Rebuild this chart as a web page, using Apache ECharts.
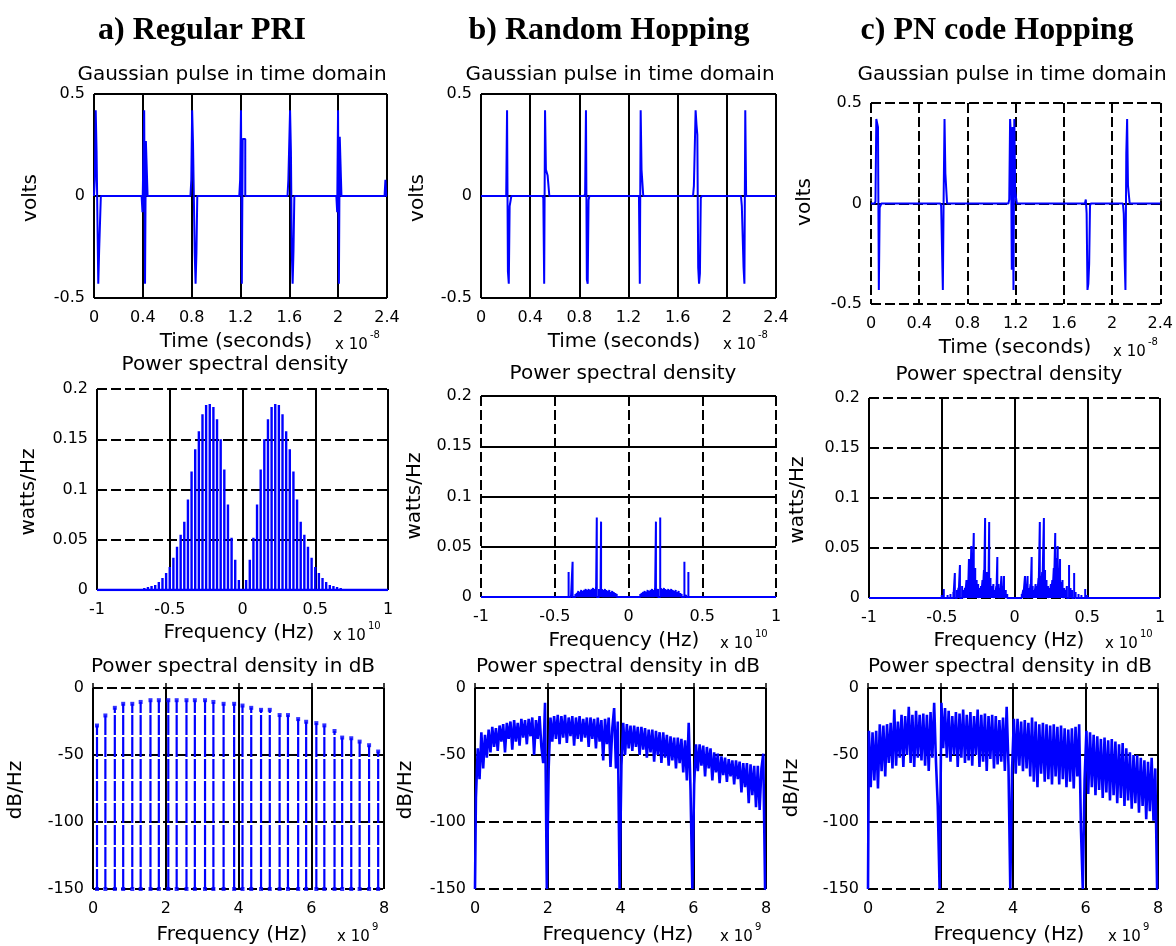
<!DOCTYPE html>
<html>
<head>
<meta charset="utf-8">
<script src="https://cdn.jsdelivr.net/npm/echarts@6.0.0/dist/echarts.min.js"></script>
<style>
  html, body { margin: 0; padding: 0; background: #fff; }
  #chart { width: 1176px; height: 946px; }
</style>
</head>
<body>
<div id="chart"></div>
<script>
// ---------- tick values ----------
const timeTicks = [0, 0.4, 0.8, 1.2, 1.6, 2, 2.4];          // x 1e-8 s
const voltTicks = [-0.5, 0, 0.5];
const freqTicks = [-1, -0.5, 0, 0.5, 1];                    // x 1e10 Hz
const psdTicks = [0, 0.05, 0.1, 0.15, 0.2];
const dbFreqTicks = [0, 2, 4, 6, 8];                        // x 1e9 Hz
const dbTicks = [-150, -100, -50, 0];

// ---------- time-domain pulses (t0 in 1e-8 s, sample values in volts) ----------
const SAMPLE_STEP = 0.007;
const regularPulses = [
  { t0: 0.000, v: [0.08, 0.42, 0.22, 0.22, -0.43, -0.27, -0.27] },
  { t0: 0.390, v: [-0.08, -0.08, 0.42, -0.43, 0.27, 0.27] },
  { t0: 0.790, v: [0.08, 0.42, 0.26, 0.26, -0.28, -0.43, -0.28] },
  { t0: 1.190, v: [0.08, 0.42, -0.43, 0.28, 0.28, 0.28] },
  { t0: 1.585, v: [0.08, 0.08, 0.42, 0.22, -0.27, -0.43, -0.27] },
  { t0: 1.985, v: [-0.08, 0.42, -0.43, 0.29, 0.29] },
  { t0: 2.380, v: [0.08] }
];
const randomPulses = [
  { t0: 0.205, v: [0.42, -0.37, -0.43, -0.05, -0.05] },
  { t0: 0.500, v: [-0.01, -0.43, 0.42, 0.13, 0.13, 0.10, 0.10] },
  { t0: 0.840, v: [0.01, 0.42, -0.41, -0.43, -0.02] },
  { t0: 1.285, v: [-0.43, 0.42, 0.13, 0.13] },
  { t0: 1.725, v: [0.05, 0.05, 0.42, 0.35, 0.30, -0.35, -0.43, -0.38, -0.01] },
  { t0: 2.115, v: [-0.05, -0.05, -0.35, -0.43, 0.42] }
];
const pnPulses = [
  { t0: 0.030, v: [0.01, 0.42, 0.40, 0.38, -0.43, -0.02, -0.02] },
  { t0: 0.575, v: [-0.01, -0.22, -0.43, 0.05, 0.42, 0.15, 0.15] },
  { t0: 1.140, v: [0.02, 0.42, 0.34, -0.33, 0.38, -0.43, 0.42, 0.06, 0.06] },
  { t0: 1.775, v: [0.02, -0.05, -0.43, -0.40, -0.30, -0.01] },
  { t0: 2.090, v: [-0.05, -0.27, -0.43, 0.25, 0.42, 0.09, 0.09] }
];

// ---------- power spectral density, positive-frequency lines (f in 1e10 Hz, watts/Hz) ----------
const regularPsdFreq = [0.025, 0.05, 0.075, 0.1, 0.125, 0.15, 0.175, 0.2, 0.225, 0.25, 0.275, 0.3, 0.325, 0.35,
  0.375, 0.4, 0.425, 0.45, 0.475, 0.5, 0.525, 0.55, 0.575, 0.6, 0.625, 0.65, 0.675, 0.7];
const regularPsdPower = [0.010, 0.030, 0.052, 0.085, 0.120, 0.150, 0.170, 0.182, 0.185, 0.184, 0.175, 0.158, 0.140, 0.118,
  0.090, 0.068, 0.055, 0.043, 0.032, 0.023, 0.017, 0.012, 0.008, 0.005, 0.004, 0.003, 0.002, 0.001];

const randomPsdFreq = [0.06, 0.08, 0.09, 0.10, 0.11, 0.12, 0.13, 0.14, 0.15, 0.16, 0.17, 0.18, 0.186, 0.19, 0.20, 0.215,
  0.22, 0.23, 0.24, 0.25, 0.26, 0.27, 0.28, 0.29, 0.30, 0.31, 0.32, 0.33, 0.34, 0.35, 0.36, 0.379, 0.39, 0.406, 0.42];
const randomPsdPower = [0.001, 0.003, 0.004, 0.005, 0.006, 0.005, 0.007, 0.006, 0.007, 0.008, 0.007, 0.008, 0.075, 0.006, 0.008, 0.079,
  0.009, 0.008, 0.009, 0.008, 0.007, 0.008, 0.007, 0.008, 0.007, 0.006, 0.007, 0.005, 0.006, 0.004, 0.003, 0.035, 0.002, 0.025, 0.001];

const pnPsdFreq = [0.03, 0.05, 0.06, 0.072, 0.08, 0.09, 0.10, 0.11, 0.118, 0.125, 0.135, 0.145, 0.155, 0.165, 0.174, 0.18,
  0.19, 0.202, 0.21, 0.22, 0.23, 0.24, 0.25, 0.26, 0.27, 0.28, 0.29, 0.297, 0.305, 0.313, 0.32, 0.33, 0.34, 0.35, 0.36,
  0.375, 0.385, 0.395, 0.41, 0.42, 0.44, 0.46, 0.486, 0.50, 0.52, 0.56, 0.60, 0.64];
const pnPsdPower = [0.002, 0.004, 0.008, 0.022, 0.012, 0.022, 0.010, 0.014, 0.041, 0.012, 0.008, 0.014, 0.012, 0.020, 0.076, 0.022,
  0.026, 0.080, 0.028, 0.018, 0.012, 0.010, 0.014, 0.018, 0.030, 0.065, 0.040, 0.052, 0.030, 0.039, 0.016, 0.018, 0.010, 0.008, 0.012,
  0.033, 0.010, 0.008, 0.025, 0.006, 0.004, 0.003, 0.009, 0.003, 0.002, 0.002, 0.002, 0.001];

// ---------- PSD in dB ----------
const regularDbFreq = [0.11, 0.34, 0.60, 0.83, 1.08, 1.31, 1.58, 1.81, 2.07, 2.30, 2.57, 2.80, 3.08, 3.31, 3.59, 3.88,
  4.11, 4.35, 4.62, 4.86, 5.13, 5.36, 5.64, 5.86, 6.14, 6.36, 6.64, 6.85, 7.10, 7.33, 7.59, 7.84];
const regularDb = [-28, -20.5, -14.8, -11.8, -11.8, -10.4, -9.1, -9.1, -9.1, -9.1, -9.1, -9.1, -9.1, -10.4, -11.8, -11.8,
  -13.1, -14.8, -16.3, -16.3, -20.2, -20.2, -23.2, -25.2, -26.2, -27.9, -32.1, -37, -37.5, -40, -42.7, -47.4];
const DB_FLOOR = -150;

// sampled every 0.05 (x 1e9 Hz) from 0 to 8
const DB_STEP = 0.05;
const randomDb = [
  -150, -82, -45, -68, -33, -60, -35, -52, -31, -48,
  -29, -44, -30, -47, -28, -40, -27, -48, -26, -38,
  -25, -46, -24, -40, -26, -43, -23, -37, -24, -42,
  -23, -36, -22, -50, -24, -38, -21, -44, -56, -11,
  -150, -60, -22, -40, -21, -38, -20, -42, -21, -37,
  -20, -41, -22, -36, -21, -43, -22, -38, -21, -40,
  -23, -37, -22, -44, -22, -38, -23, -45, -22, -40,
  -24, -54, -23, -42, -22, -59, -30, -15, -60, -25,
  -150, -58, -26, -50, -27, -45, -28, -47, -28, -44,
  -29, -50, -29, -46, -30, -52, -31, -48, -31, -55,
  -32, -50, -33, -56, -33, -52, -35, -58, -36, -54,
  -37, -60, -37, -56, -38, -63, -39, -69, -26, -76,
  -150, -72, -42, -62, -42, -58, -43, -66, -44, -60,
  -45, -69, -48, -63, -49, -71, -51, -65, -52, -70,
  -53, -66, -54, -72, -54, -68, -55, -78, -56, -74,
  -56, -86, -57, -80, -58, -89, -58, -91, -60, -49,
  -150
];
const pnDb = [
  -150, -32, -74, -33, -69, -32, -75, -27, -62, -28,
  -66, -27, -56, -26, -60, -16, -58, -25, -52, -20,
  -59, -21, -50, -14, -56, -20, -59, -17, -52, -20,
  -54, -19, -58, -20, -62, -18, -52, -11, -55, -88,
  -150, -11, -45, -15, -52, -17, -55, -21, -50, -18,
  -59, -19, -52, -16, -56, -20, -54, -18, -58, -21,
  -50, -16, -59, -20, -55, -19, -62, -21, -53, -20,
  -60, -21, -57, -24, -55, -22, -62, -14, -58, -150,
  -60, -23, -64, -23, -58, -25, -62, -24, -60, -26,
  -66, -22, -70, -25, -74, -27, -64, -26, -70, -27,
  -68, -28, -72, -27, -66, -29, -72, -28, -68, -30,
  -74, -31, -70, -30, -75, -29, -66, -27, -106, -150,
  -68, -32, -79, -33, -74, -35, -80, -36, -76, -38,
  -82, -37, -78, -39, -84, -38, -80, -40, -86, -42,
  -82, -41, -88, -45, -84, -48, -90, -50, -86, -50,
  -93, -52, -88, -54, -98, -55, -92, -52, -99, -60,
  -150
];

// ---------- builders ----------
function pulseTrain(pulses, tEnd) {
  const pts = [[0, 0]];
  pulses.forEach(p => {
    pts.push([p.t0, 0]);
    p.v.forEach((v, k) => pts.push([p.t0 + (k + 1) * SAMPLE_STEP, v]));
    pts.push([p.t0 + (p.v.length + 1) * SAMPLE_STEP, 0]);
  });
  pts.push([tEnd, 0]);
  return pts;
}
// two-sided line spectrum drawn as thin spikes on a zero baseline
function lineSpectrum(freqs, powers, lo, hi) {
  const pairs = [];
  freqs.forEach((f, i) => { pairs.push([-f, powers[i]]); pairs.push([f, powers[i]]); });
  pairs.sort((a, b) => a[0] - b[0]);
  const pts = [[lo, 0]];
  pairs.forEach(([f, h]) => { pts.push([f, 0], [f, h], [f, 0]); });
  pts.push([hi, 0]);
  return pts;
}
function stems(freqs, tops) {
  const pts = [];
  freqs.forEach((f, i) => { pts.push([f, DB_FLOOR], [f, tops[i]], [f, '-']); });
  return pts;
}
function sampled(values) {
  return values.map((v, i) => [+(i * DB_STEP).toFixed(2), v]);
}

// ---------- layout ----------
const BLUE = '#0000ff';
const SANS = 'DejaVu Sans';
const panels = [
  { box: [94, 94, 293, 204], x: timeTicks, y: voltTicks, xg: 'solid', yg: 'solid',
    title: 'Gaussian pulse in time domain', t: [232, 75], xl: 'Time (seconds)', xlp: [236, 342], ex: [335, 345, '-8'], yl: 'volts', ylp: [31, 198] },
  { box: [481, 94, 295, 204], x: timeTicks, y: voltTicks, xg: 'solid', yg: 'solid',
    title: 'Gaussian pulse in time domain', t: [620, 75], xl: 'Time (seconds)', xlp: [624, 342], ex: [723, 345, '-8'], yl: 'volts', ylp: [418, 198] },
  { box: [871, 103, 292, 201], x: timeTicks, y: voltTicks, xg: 'dash', yg: 'dash',
    title: 'Gaussian pulse in time domain', t: [1012, 75], xl: 'Time (seconds)', xlp: [1015, 348], ex: [1113, 352, '-8'], yl: 'volts', ylp: [805, 202] },
  { box: [97, 389, 291, 201], x: freqTicks, y: psdTicks, xg: 'solid', yg: 'dash',
    title: 'Power spectral density', t: [235, 365], xl: 'Frequency (Hz)', xlp: [239, 633], ex: [333, 636, '10'], yl: 'watts/Hz', ylp: [29, 492] },
  { box: [481, 396, 295, 201], x: freqTicks, y: psdTicks, xg: 'dash', yg: 'solid',
    title: 'Power spectral density', t: [623, 374], xl: 'Frequency (Hz)', xlp: [624, 641], ex: [720, 644, '10'], yl: 'watts/Hz', ylp: [415, 496] },
  { box: [869, 398, 291, 200], x: freqTicks, y: psdTicks, xg: 'solid', yg: 'dash',
    title: 'Power spectral density', t: [1009, 375], xl: 'Frequency (Hz)', xlp: [1009, 641], ex: [1105, 644, '10'], yl: 'watts/Hz', ylp: [798, 500] },
  { box: [93, 688, 291, 201], x: dbFreqTicks, y: dbTicks, xg: 'solid', yg: 'dash',
    title: 'Power spectral density in dB', t: [233, 667], xl: 'Frequency (Hz)', xlp: [232, 935], ex: [337, 937, '9'], yl: 'dB/Hz', ylp: [16, 790] },
  { box: [475, 688, 291, 201], x: dbFreqTicks, y: dbTicks, xg: 'solid', yg: 'dash',
    title: 'Power spectral density in dB', t: [618, 667], xl: 'Frequency (Hz)', xlp: [618, 935], ex: [720, 937, '9'], yl: 'dB/Hz', ylp: [406, 790] },
  { box: [868, 688, 290, 201], x: dbFreqTicks, y: dbTicks, xg: 'solid', yg: 'dash',
    title: 'Power spectral density in dB', t: [1010, 667], xl: 'Frequency (Hz)', xlp: [1009, 935], ex: [1108, 937, '9'], yl: 'dB/Hz', ylp: [792, 788] }
];

function makeAxis(gi, ticks, gridType, isX) {
  return {
    type: 'value', gridIndex: gi,
    min: ticks[0], max: ticks[ticks.length - 1], interval: ticks[1] - ticks[0],
    axisLine: { show: false },
    axisTick: { show: true, inside: true, length: 5, lineStyle: { color: '#000', width: 1.5 } },
    axisLabel: { margin: isX ? 12 : 9, color: '#000', fontSize: 16, fontFamily: SANS },
    splitLine: { show: true, showMinLine: true, showMaxLine: true,
      lineStyle: { color: '#000', width: 2, type: gridType === 'dash' ? [10, 4] : 'solid' } }
  };
}

const grid = [], xAxis = [], yAxis = [], graphic = [];
panels.forEach((p, i) => {
  grid.push({ left: p.box[0], top: p.box[1], width: p.box[2], height: p.box[3], show: false });
  xAxis.push(makeAxis(i, p.x, p.xg, true));
  yAxis.push(makeAxis(i, p.y, p.yg, false));
  const txt = (x, y, text, size, extra) => Object.assign({
    type: 'text', x, y,
    style: { text, fill: '#000', fontSize: size, fontFamily: SANS,
      align: 'center', verticalAlign: 'middle', textAlign: 'center', textVerticalAlign: 'middle' }
  }, extra || {});
  graphic.push(txt(p.t[0], p.t[1], p.title, 20));
  graphic.push(txt(p.xlp[0], p.xlp[1], p.xl, 20));
  graphic.push(txt(p.ylp[0], p.ylp[1], p.yl, 20, { rotation: Math.PI / 2 }));
  graphic.push({ type: 'text', x: p.ex[0], y: p.ex[1],
    style: { text: 'x 10', fill: '#000', fontSize: 15, fontFamily: SANS,
      align: 'left', verticalAlign: 'middle', textAlign: 'left', textVerticalAlign: 'middle' } });
  graphic.push({ type: 'text', x: p.ex[0] + 35, y: p.ex[1] - 10,
    style: { text: p.ex[2], fill: '#000', fontSize: 10, fontFamily: SANS,
      align: 'left', verticalAlign: 'middle', textAlign: 'left', textVerticalAlign: 'middle' } });
});

// column headings
[['a) Regular PRI', 202], ['b) Random Hopping', 609], ['c) PN code Hopping', 997]].forEach(([t, x]) => {
  graphic.push({ type: 'text', x, y: 31,
    style: { text: t, fill: '#000', fontSize: 32, fontWeight: 'bold', fontFamily: 'Liberation Serif',
      align: 'center', verticalAlign: 'middle', textAlign: 'center', textVerticalAlign: 'middle' } });
});

const lineBase = { type: 'line', showSymbol: false, symbol: 'none', animation: false,
  lineStyle: { color: BLUE, width: 2 }, itemStyle: { color: BLUE }, z: 3 };
const series = [
  Object.assign({}, lineBase, { xAxisIndex: 0, yAxisIndex: 0, step: 'end', data: pulseTrain(regularPulses, 2.4) }),
  Object.assign({}, lineBase, { xAxisIndex: 1, yAxisIndex: 1, step: 'end', data: pulseTrain(randomPulses, 2.4) }),
  Object.assign({}, lineBase, { xAxisIndex: 2, yAxisIndex: 2, step: 'end', data: pulseTrain(pnPulses, 2.4) }),
  Object.assign({}, lineBase, { xAxisIndex: 3, yAxisIndex: 3, data: lineSpectrum(regularPsdFreq, regularPsdPower, -1, 1),
    lineStyle: { color: BLUE, width: 2.4 } }),
  Object.assign({}, lineBase, { xAxisIndex: 4, yAxisIndex: 4, data: lineSpectrum(randomPsdFreq, randomPsdPower, -1, 1) }),
  Object.assign({}, lineBase, { xAxisIndex: 5, yAxisIndex: 5, data: lineSpectrum(pnPsdFreq, pnPsdPower, -1, 1) }),
  Object.assign({}, lineBase, { xAxisIndex: 6, yAxisIndex: 6, connectNulls: false, data: stems(regularDbFreq, regularDb),
    lineStyle: { color: BLUE, width: 2.2, type: [20, 2] } }),
  { type: 'scatter', xAxisIndex: 6, yAxisIndex: 6, symbol: 'rect', symbolSize: 4, animation: false, z: 4,
    itemStyle: { color: BLUE },
    data: regularDbFreq.map((f, i) => [f, regularDb[i]]).concat(regularDbFreq.map(f => [f, DB_FLOOR])) },
  Object.assign({}, lineBase, { xAxisIndex: 7, yAxisIndex: 7, step: 'middle', data: sampled(randomDb),
    lineStyle: { color: BLUE, width: 2.6 } }),
  Object.assign({}, lineBase, { xAxisIndex: 8, yAxisIndex: 8, step: 'middle', data: sampled(pnDb),
    lineStyle: { color: BLUE, width: 2.6 } })
];

const chart = echarts.init(document.getElementById('chart'), null, { renderer: 'canvas' });
chart.setOption({ animation: false, backgroundColor: '#fff', grid, xAxis, yAxis, series, graphic });
</script>
</body>
</html>
